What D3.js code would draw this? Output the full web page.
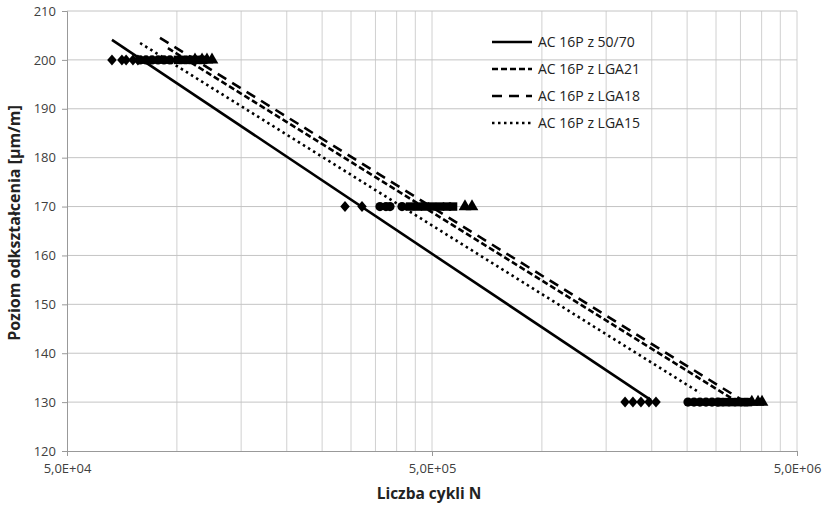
<!DOCTYPE html>
<html>
<head>
<meta charset="utf-8">
<script src="https://cdn.jsdelivr.net/npm/d3@7"></script>
<style>
  body { margin: 0; background: #fff; }
  text { font-family: "Open Sans", sans-serif; }
</style>
</head>
<body>
<div id="main-diagram"></div>
<script>
// measured points (N cycles, strain level)
const pts5070 = [[66400,200],[70700,200],[72600,200],[75800,200],[78200,200],
  [288800,170],[321500,170],
  [1690000,130],[1776000,130],[1868000,130],[1965000,130],[2054000,130]]
const ptsLGA15 = [[79300,200],[82300,200],[85500,200],[88800,200],[92200,200],[95700,200],
  [360000,170],[374000,170],[383600,170],[413800,170],
  [2513000,130],[2611000,130],[2710000,130],[2816000,130],[2925000,130],[3037000,130]]
const ptsLGA21 = [[100700,200],[103900,200],[107300,200],[110700,200],[114300,200],[117900,200],
  [435300,170],[457700,170],[478400,170],[500000,170],[526000,170],[549500,170],[571000,170],
  [3076000,130],[3195000,130],[3318000,130],[3447000,130],[3580000,130],[3670000,130]]
const ptsLGA18 = [[112100,200],[117200,200],[120900,200],[124800,200],
  [615600,170],[643500,170],
  [3760000,130],[3910000,130],[4010000,130]]

// trend lines (start / end)
const trend5070 = [[66400,204.1],[1990000,130.4]]
const trendLGA21 = [[94500,202.4],[3296000,130.85]]
const trendLGA18 = [[89900,204.5],[3535000,130.4]]
const trendLGA15 = [[79300,203.45],[2710000,131.9]]

const legendNames = ['AC 16P z 50/70', 'AC 16P z LGA21', 'AC 16P z LGA18', 'AC 16P z LGA15']
const yTicks = [120, 130, 140, 150, 160, 170, 180, 190, 200, 210]
const xMajor = [5e4, 5e5, 5e6]

const width = 827, height = 507
const margin = { top: 11, right: 30, bottom: 56, left: 67 }
const iw = width - margin.left - margin.right
const ih = height - margin.top - margin.bottom

const svg = d3.select('#main-diagram').append('svg')
    .attr('width', width)
    .attr('height', height)
const g = svg.append('g').attr('transform', `translate(${margin.left},${margin.top})`)

const x = d3.scaleLog().domain([5e4, 5e6]).range([0, iw])
const y = d3.scaleLinear().domain([120, 210]).range([ih, 0])

// minor grid: multiples of the major unit
const xMinor = []
xMajor.slice(0, 2).forEach(function (m) {
    for (let k = 2; k <= 9; k++) xMinor.push(m * k)
})
g.selectAll('.vgrid').data(xMinor.concat([5e5, 5e6])).enter().append('line')
    .attr('x1', d => x(d)).attr('x2', d => x(d))
    .attr('y1', 0).attr('y2', ih)
    .attr('stroke', '#d0d0d0').attr('stroke-width', 1)
g.selectAll('.hgrid').data(yTicks.slice(1)).enter().append('line')
    .attr('x1', 0).attr('x2', iw)
    .attr('y1', d => y(d)).attr('y2', d => y(d))
    .attr('stroke', '#c4c4c4').attr('stroke-width', 1)

// axes
const yAxis = g.append('g').call(d3.axisLeft(y).tickValues(yTicks).tickSize(5).tickPadding(6))
const xAxis = g.append('g').attr('transform', `translate(0,${ih})`)
    .call(d3.axisBottom(x).tickValues(xMajor).tickSize(5).tickPadding(8)
        .tickFormat(d => d3.format('.1e')(d).replace('.', ',').replace('e+', 'E+0')))
;[xAxis, yAxis].forEach(function (a) {
    a.select('.domain').attr('stroke', '#999')
    a.selectAll('.tick line').attr('stroke', '#999')
    a.selectAll('text').attr('font-size', 13).attr('fill', '#404040')
        .attr('font-family', '"Open Sans", sans-serif')
})

// trend lines
const styles = [
    { data: trend5070, dash: null },
    { data: trendLGA21, dash: '6,3' },
    { data: trendLGA18, dash: '10,7' },
    { data: trendLGA15, dash: '2.5,3.5' }
]
const line = d3.line().x(d => x(d[0])).y(d => y(d[1]))
styles.forEach(function (s) {
    g.append('path').attr('d', line(s.data))
        .attr('fill', 'none').attr('stroke', '#000').attr('stroke-width', 2.6)
        .attr('stroke-dasharray', s.dash)
})

// markers
const wideDiamond = {
    draw: function (ctx, size) {
        const r = Math.sqrt(size / 2)
        ctx.moveTo(0, -r * 1.1)
        ctx.lineTo(r * 0.95, 0)
        ctx.lineTo(0, r * 1.1)
        ctx.lineTo(-r * 0.95, 0)
        ctx.closePath()
    }
}
const markerSets = [
    { data: pts5070, type: wideDiamond, size: 50 },
    { data: ptsLGA15, type: d3.symbolCircle, size: 66 },
    { data: ptsLGA21, type: d3.symbolSquare, size: 72 },
    { data: ptsLGA18, type: d3.symbolTriangle, size: 70 }
]
markerSets.forEach(function (m) {
    g.selectAll(null).data(m.data).enter().append('path')
        .attr('d', d3.symbol().type(m.type).size(m.size))
        .attr('transform', d => `translate(${x(d[0])},${y(d[1])})`)
        .attr('fill', '#000')
})

// legend
const legend = g.append('g').attr('transform', 'translate(425,31)')
legendNames.forEach(function (name, i) {
    const row = legend.append('g').attr('transform', `translate(0,${i * 27})`)
    row.append('line').attr('x1', 0).attr('x2', 40).attr('y1', 0).attr('y2', 0)
        .attr('stroke', '#000').attr('stroke-width', 2.6)
        .attr('stroke-dasharray', styles[i].dash)
    row.append('text').attr('x', 46).attr('y', 5)
        .attr('font-size', 14).attr('fill', '#222').text(name)
})

// axis titles
svg.append('text')
    .attr('x', margin.left + iw / 2 - 3).attr('y', 499)
    .attr('text-anchor', 'middle').attr('font-size', 15.5).attr('font-weight', 'bold')
    .attr('fill', '#222').text('Liczba cykli N')
svg.append('text')
    .attr('transform', `translate(20,${margin.top + 212}) rotate(-90)`)
    .attr('text-anchor', 'middle').attr('font-size', 16).attr('font-weight', 'bold')
    .attr('fill', '#222').text('Poziom odkształcenia [µm/m]')
</script>
</body>
</html>
